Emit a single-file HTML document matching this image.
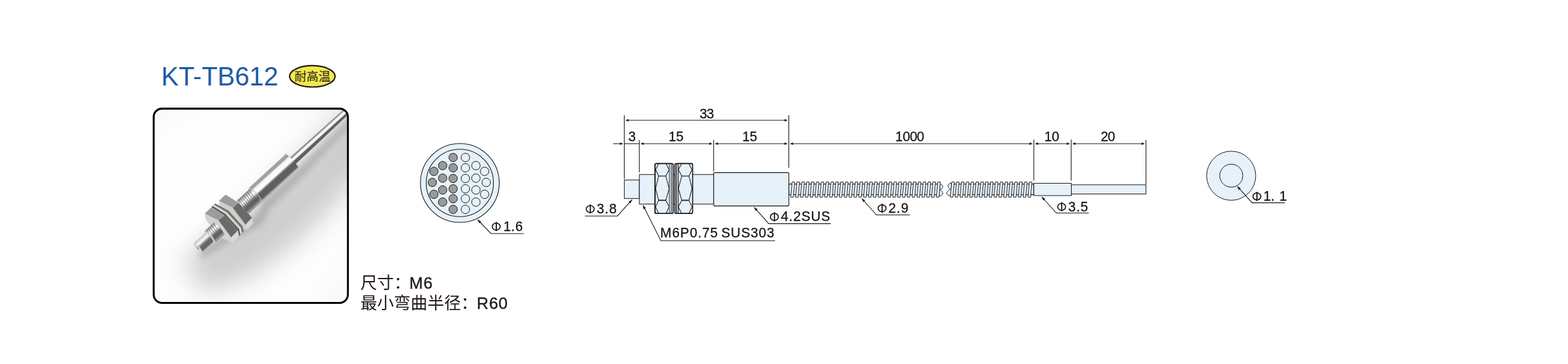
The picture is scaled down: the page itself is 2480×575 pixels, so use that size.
<!DOCTYPE html>
<html lang="zh"><head><meta charset="utf-8"><title>KT-TB612</title>
<style>
html,body{margin:0;padding:0;background:#fff}
body{width:2480px;height:575px;overflow:hidden;font-family:"Liberation Sans",sans-serif}
svg{display:block}
.t{font-family:"Liberation Sans",sans-serif;fill:#161616;stroke:#161616;stroke-width:.3px;filter:grayscale(1)}
.g{fill:#161616;stroke:none}
.cg{fill:#231815;stroke:none}
.ct{font-family:"Liberation Sans",sans-serif;fill:#231815;stroke:#231815;stroke-width:.4px;filter:grayscale(1)}
.cj{font-family:"Liberation Sans","Noto Sans CJK SC",sans-serif;fill:#231815;stroke:none}
.l{fill:none;stroke:#161616}
.f{fill:#e6f1fa;stroke:#161616}
</style></head><body>
<svg width="2480" height="575" viewBox="0 0 2480 575" role="img" aria-label="KT-TB612 耐高温 尺寸：M6 最小弯曲半径：R60">
<title>KT-TB612 耐高温</title>
<desc>KT-TB612 耐高温 光纤传感器。尺寸：M6，最小弯曲半径：R60。尺寸图：33 / 3 / 15 / 15 / 1000 / 10 / 20，Φ3.8，M6P0.75 SUS303，Φ4.2SUS，Φ2.9，Φ3.5，Φ1.6，Φ1.1</desc>
<text x="255" y="135" font-size="43" fill="#1e5aa8" textLength="185" lengthAdjust="spacingAndGlyphs" style="font-family:'Liberation Sans',sans-serif">KT-TB612</text>
<ellipse cx="494" cy="120.6" rx="36" ry="16.9" fill="#f1e84e" stroke="#231815" stroke-width="2.2"/>
<text class="cj" x="494.3" y="127.6" font-size="19" text-anchor="middle">耐高温</text>
<defs>
<clipPath id="pc"><rect x="244.4" y="172.9" width="304.5" height="304.2" rx="11.8" ry="11.8"/></clipPath>
<linearGradient id="cyl" x1="0" y1="0" x2="0" y2="1">
<stop offset="0" stop-color="#dcdcdc"/><stop offset="0.04" stop-color="#a6a6a6"/><stop offset="0.16" stop-color="#9b9b9b"/><stop offset="0.2" stop-color="#c4c4c4"/>
<stop offset="0.25" stop-color="#f6f6f6"/><stop offset="0.46" stop-color="#ffffff"/><stop offset="0.52" stop-color="#b0aeac"/><stop offset="0.57" stop-color="#6b6967"/>
<stop offset="0.64" stop-color="#5e5c5a"/><stop offset="0.86" stop-color="#62605e"/><stop offset="0.91" stop-color="#9a9997"/><stop offset="0.96" stop-color="#b4b3b2"/><stop offset="1" stop-color="#a8a8a8"/>
</linearGradient>
<linearGradient id="cyl2" x1="0" y1="0" x2="0" y2="1">
<stop offset="0" stop-color="#a2a2a2"/><stop offset="0.08" stop-color="#8e8e8e"/><stop offset="0.19" stop-color="#9c9c9c"/><stop offset="0.26" stop-color="#f2f2f2"/>
<stop offset="0.5" stop-color="#fbfbfb"/><stop offset="0.58" stop-color="#8b8987"/><stop offset="0.66" stop-color="#5e5c5a"/>
<stop offset="0.93" stop-color="#626060"/><stop offset="1" stop-color="#7c7a78"/>
</linearGradient>
<linearGradient id="cyl3" x1="0" y1="0" x2="0" y2="1">
<stop offset="0" stop-color="#c4c4c4"/><stop offset="0.12" stop-color="#d6d6d6"/><stop offset="0.28" stop-color="#f6f6f6"/>
<stop offset="0.38" stop-color="#e0e0e0"/><stop offset="0.5" stop-color="#8a8886"/><stop offset="0.62" stop-color="#6a6866"/>
<stop offset="0.85" stop-color="#62605e"/><stop offset="0.95" stop-color="#8f8d8b"/><stop offset="1" stop-color="#a9a8a7"/>
</linearGradient>
<linearGradient id="thr" x1="0" y1="0" x2="0" y2="1">
<stop offset="0" stop-color="#8f8d8b"/><stop offset="0.14" stop-color="#bdbcbb"/><stop offset="0.3" stop-color="#ffffff"/>
<stop offset="0.42" stop-color="#d9d8d7"/><stop offset="0.56" stop-color="#7a7876"/><stop offset="0.72" stop-color="#5f5d5b"/><stop offset="0.86" stop-color="#858381"/>
<stop offset="0.95" stop-color="#bab9b8"/><stop offset="1" stop-color="#908f8d"/>
</linearGradient>
<filter id="bl1" x="-10%" y="-10%" width="120%" height="120%"><feGaussianBlur stdDeviation="0.6"/></filter>
<filter id="bl2" x="-30%" y="-80%" width="160%" height="260%"><feGaussianBlur stdDeviation="20"/></filter>
<filter id="bl3" x="-20%" y="-50%" width="140%" height="200%"><feGaussianBlur stdDeviation="5.5"/></filter>
<radialGradient id="bgg" cx="0.42" cy="0.55" r="0.75"><stop offset="0" stop-color="#ffffff"/><stop offset="0.7" stop-color="#fdfdfd"/><stop offset="1" stop-color="#f8f8f8"/></radialGradient>
</defs>
<g clip-path="url(#pc)">
<rect x="242" y="170" width="310" height="310" fill="url(#bgg)"/>
<g transform="translate(312.3 391.5) rotate(-42.14)">
<g filter="url(#bl2)" opacity="0.42"><path d="M-30 0 L60 4 L130 6 L205 4 L360 0 L360 70 L205 95 L120 100 L30 90 L-40 60Z" fill="#8c8c8c" /></g>
<g filter="url(#bl3)" opacity="0.55"><path d="M-4 8 L50 12 L100 26 L125 16 L205 15 L340 8 L340 16 L205 27 L125 30 L100 40 L45 26 L-6 18Z" fill="#8a8a8a" /></g>
</g>
<g filter="url(#bl1)"><g transform="translate(312.3 391.5) rotate(-42.14)"><path d="M200 -7.7 L345 -6.7 L345 3.4 L200 6.2Z" fill="url(#cyl2)" /><path d="M124 -15.6 L203.5 -16.6 Q206.2 -1.2 203.8 13.4 L123 15.4 Q119.5 0.4 124 -15.6Z" fill="url(#cyl)"/><ellipse cx="123.4" cy="0.1" rx="4.3" ry="15.4" fill="#c9c9c8"/><path d="M96 -13.6 L124.8 -13.4 Q128.8 0.5 124.8 14.0 L96 14.6Z" fill="url(#thr)"/><path d="M99.5 -13.4 Q96.5 0.5 99.5 14.2" stroke="#4f4c4a" stroke-opacity="0.55" stroke-width="1.1" fill="none"/><path d="M103.2 -13.4 Q100.2 0.5 103.2 14.2" stroke="#4f4c4a" stroke-opacity="0.55" stroke-width="1.1" fill="none"/><path d="M106.9 -13.4 Q103.9 0.5 106.9 14.2" stroke="#4f4c4a" stroke-opacity="0.55" stroke-width="1.1" fill="none"/><path d="M110.6 -13.4 Q107.6 0.5 110.6 14.2" stroke="#4f4c4a" stroke-opacity="0.55" stroke-width="1.1" fill="none"/><path d="M114.3 -13.4 Q111.3 0.5 114.3 14.2" stroke="#4f4c4a" stroke-opacity="0.55" stroke-width="1.1" fill="none"/><path d="M118 -13.4 Q115 0.5 118 14.2" stroke="#4f4c4a" stroke-opacity="0.55" stroke-width="1.1" fill="none"/><path d="M121.7 -13.4 Q118.7 0.5 121.7 14.2" stroke="#4f4c4a" stroke-opacity="0.55" stroke-width="1.1" fill="none"/></g>
<path d="M346.3 317.2 L368.2 328.2 L388.3 355 L389.5 364.1 L367.6 353.1 L347.5 326.3Z" fill="#cfcfce" /><path d="M346.3 317.2 L356.7 307.5 L377.4 320.3 L368.2 328.2Z" fill="#9e9c9a" /><path d="M368.2 328.2 L377.4 320.3 L398.7 344 L388.3 355Z" fill="#6c6a68" /><path d="M388.3 355 L398.7 344 L400.5 353.1 L389.5 364.1Z" fill="#d6d6d5" /><path d="M334.2 327.5 L354.9 340.3 L376.2 364 L378 373.1 L385.5 366 L383.5 357 L361.5 332.5 L340 321.5Z" fill="#9a9896" /><path d="M337.5 324.5 L357.8 336.6 L379.6 360.6 L381.4 369" fill="none" stroke="#ececec" stroke-width="1.9" stroke-linejoin="round"/><path d="M335.4 326.4 L355.6 339.2 L377 363 L378.8 372" fill="none" stroke="#4c4a48" stroke-width="1.6" stroke-linejoin="round"/><path d="M340.2 322.2 L360.6 334 L382.4 358 L384.4 366.4" fill="none" stroke="#5a5856" stroke-width="1.4" stroke-linejoin="round"/><path d="M323.8 337.2 L345.7 348.2 L365.8 375 L367 384.1 L345.1 373.1 L325 346.3Z" fill="#d2d2d1" /><path d="M323.8 337.2 L334.2 327.5 L354.9 340.3 L345.7 348.2Z" fill="#9e9c9a" /><path d="M345.7 348.2 L354.9 340.3 L376.2 364 L365.8 375Z" fill="#6c6a68" /><path d="M365.8 375 L376.2 364 L378 373.1 L367 384.1Z" fill="#d9d9d8" /><g transform="translate(312.3 391.5) rotate(-42.14)"><path d="M25.5 -12.0 L46 -12.4 Q50 0.5 46 13.2 L25.5 12.6 Q21.4 0.4 25.5 -12.0Z" fill="url(#thr)"/><path d="M30 -12.0 Q27.2 0.5 30 12.9" stroke="#4f4c4a" stroke-opacity="0.55" stroke-width="1.1" fill="none"/><path d="M33.6 -12.0 Q30.8 0.5 33.6 12.9" stroke="#4f4c4a" stroke-opacity="0.55" stroke-width="1.1" fill="none"/><path d="M37.2 -12.0 Q34.4 0.5 37.2 12.9" stroke="#4f4c4a" stroke-opacity="0.55" stroke-width="1.1" fill="none"/><path d="M40.8 -12.0 Q38 0.5 40.8 12.9" stroke="#4f4c4a" stroke-opacity="0.55" stroke-width="1.1" fill="none"/><path d="M44.4 -12.0 Q41.6 0.5 44.4 12.9" stroke="#4f4c4a" stroke-opacity="0.55" stroke-width="1.1" fill="none"/><ellipse cx="25.6" cy="0.4" rx="3.8" ry="12.0" fill="#d3d3d2"/><path d="M0 -9.3 L25.4 -9.4 Q28.4 0.5 25.4 10.4 L0 10.6 Q-3.2 0.6 0 -9.3Z" fill="url(#cyl3)"/><ellipse cx="0.3" cy="0.6" rx="2.9" ry="9.6" fill="#d6d6d6"/><ellipse cx="0.2" cy="0.8" rx="1.0" ry="1.9" fill="#4a90e2"/></g></g>
</g>
<rect x="243.1" y="171.6" width="307.15" height="306.8" rx="13.1" ry="13.1" fill="none" stroke="#000" stroke-width="3.05"/>
<text class="cj" x="570" y="455.6" font-size="26.5">尺寸：</text>
<text class="ct" font-size="25.7" y="455.6" x="647.49 669.75">M6</text>
<text class="cj" x="570" y="488.4" font-size="26.5">最小弯曲半径：</text>
<text class="ct" font-size="25.7" y="488.4" x="753.99 773.4 788.54">R60</text>
<circle class="f" stroke-width="1.1" cx="727.3" cy="289.0" r="62.3"/>
<circle class="f" stroke-width="1.1" cx="727.3" cy="289.0" r="53.2"/>
<circle cx="716.7" cy="248.8" r="6.7" fill="#9a9a9a" stroke="#161616" stroke-width="1"/>
<circle cx="716.7" cy="265.1" r="6.7" fill="#9a9a9a" stroke="#161616" stroke-width="1"/>
<circle cx="716.7" cy="282" r="6.7" fill="#9a9a9a" stroke="#161616" stroke-width="1"/>
<circle cx="716.7" cy="298.3" r="6.7" fill="#9a9a9a" stroke="#161616" stroke-width="1"/>
<circle cx="716.7" cy="313.9" r="6.7" fill="#9a9a9a" stroke="#161616" stroke-width="1"/>
<circle cx="716.7" cy="330.8" r="6.7" fill="#9a9a9a" stroke="#161616" stroke-width="1"/>
<circle cx="700.1" cy="261.6" r="6.7" fill="#9a9a9a" stroke="#161616" stroke-width="1"/>
<circle cx="700.1" cy="281.4" r="6.7" fill="#9a9a9a" stroke="#161616" stroke-width="1"/>
<circle cx="700.1" cy="300.1" r="6.7" fill="#9a9a9a" stroke="#161616" stroke-width="1"/>
<circle cx="700.1" cy="319.2" r="6.7" fill="#9a9a9a" stroke="#161616" stroke-width="1"/>
<circle cx="686.3" cy="270.7" r="6.7" fill="#9a9a9a" stroke="#161616" stroke-width="1"/>
<circle cx="683.8" cy="288.2" r="6.7" fill="#9a9a9a" stroke="#161616" stroke-width="1"/>
<circle cx="686.3" cy="307" r="6.7" fill="#9a9a9a" stroke="#161616" stroke-width="1"/>
<circle cx="736.1" cy="248.8" r="6.7" fill="#e6f1fa" stroke="#161616" stroke-width="1"/>
<circle cx="736.1" cy="265.1" r="6.7" fill="#e6f1fa" stroke="#161616" stroke-width="1"/>
<circle cx="736.1" cy="282" r="6.7" fill="#e6f1fa" stroke="#161616" stroke-width="1"/>
<circle cx="736.1" cy="298.3" r="6.7" fill="#e6f1fa" stroke="#161616" stroke-width="1"/>
<circle cx="736.1" cy="313.9" r="6.7" fill="#e6f1fa" stroke="#161616" stroke-width="1"/>
<circle cx="736.1" cy="330.8" r="6.7" fill="#e6f1fa" stroke="#161616" stroke-width="1"/>
<circle cx="752.7" cy="261.6" r="6.7" fill="#e6f1fa" stroke="#161616" stroke-width="1"/>
<circle cx="752.7" cy="281.4" r="6.7" fill="#e6f1fa" stroke="#161616" stroke-width="1"/>
<circle cx="752.7" cy="300.1" r="6.7" fill="#e6f1fa" stroke="#161616" stroke-width="1"/>
<circle cx="752.7" cy="319.2" r="6.7" fill="#e6f1fa" stroke="#161616" stroke-width="1"/>
<circle cx="766.5" cy="270.7" r="6.7" fill="#e6f1fa" stroke="#161616" stroke-width="1"/>
<circle cx="769" cy="288.2" r="6.7" fill="#e6f1fa" stroke="#161616" stroke-width="1"/>
<circle cx="766.5" cy="307" r="6.7" fill="#e6f1fa" stroke="#161616" stroke-width="1"/>
<path class="l" stroke-width="1.1" d="M755.5 347 L776.5 369 L828.7 369"/>
<path class="g" d="M755.5 347 L761.09 349.82 L758.05 352.72 Z"/>
<ellipse class="l" stroke-width="1.7" cx="784.85" cy="357.95" rx="6.25" ry="5.5"/>
<path class="l" stroke-width="1.85" d="M784.95 350.6 L784.95 365.05"/>
<text class="t" font-size="21.3" y="364.7" x="796.31 808.15 815">1.6</text>
<path class="l" stroke-width="1.1" d="M987.4 182 L987.4 282.7"/>
<path class="l" stroke-width="1.1" d="M1011.2 221 L1011.2 272.3"/>
<path class="l" stroke-width="1.1" d="M1128.7 221 L1128.7 270.8"/>
<path class="l" stroke-width="1.1" d="M1247.6 182 L1247.6 265"/>
<path class="l" stroke-width="1.1" d="M1635.1 220.5 L1635.1 285.6"/>
<path class="l" stroke-width="1.1" d="M1694.2 220.5 L1694.2 285.6"/>
<path class="l" stroke-width="1.1" d="M1812.5 221 L1812.5 291"/>
<path class="l" stroke-width="1.1" d="M991.2 190 L1243.8 190"/>
<path class="g" d="M989.2 190 L994.2 188.05 L994.2 191.95 Z"/>
<path class="g" d="M1245.8 190 L1240.8 191.95 L1240.8 188.05 Z"/>
<path class="l" stroke-width="1.1" d="M969.7 227 L983.6 227"/>
<path class="g" d="M985.6 227 L980.6 228.95 L980.6 225.05 Z"/>
<path class="l" stroke-width="1.1" d="M987.4 227 L1011.2 227"/>
<path class="l" stroke-width="1.1" d="M1015 227 L1124.9 227"/>
<path class="g" d="M1013 227 L1018 225.05 L1018 228.95 Z"/>
<path class="g" d="M1126.9 227 L1121.9 228.95 L1121.9 225.05 Z"/>
<path class="l" stroke-width="1.1" d="M1132.5 227 L1243.8 227"/>
<path class="g" d="M1130.5 227 L1135.5 225.05 L1135.5 228.95 Z"/>
<path class="g" d="M1245.8 227 L1240.8 228.95 L1240.8 225.05 Z"/>
<path class="l" stroke-width="1.1" d="M1251.4 227 L1631.3 227"/>
<path class="g" d="M1249.4 227 L1254.4 225.05 L1254.4 228.95 Z"/>
<path class="g" d="M1633.3 227 L1628.3 228.95 L1628.3 225.05 Z"/>
<path class="l" stroke-width="1.1" d="M1638.9 227 L1690.4 227"/>
<path class="g" d="M1636.9 227 L1641.9 225.05 L1641.9 228.95 Z"/>
<path class="g" d="M1692.4 227 L1687.4 228.95 L1687.4 225.05 Z"/>
<path class="l" stroke-width="1.1" d="M1698 227 L1808.7 227"/>
<path class="g" d="M1696 227 L1701 225.05 L1701 228.95 Z"/>
<path class="g" d="M1810.7 227 L1805.7 228.95 L1805.7 225.05 Z"/>
<text class="t" font-size="21.3" y="187" x="1106.39 1117.46">33</text>
<text class="t" font-size="21.3" y="223.3" x="993.79">3</text>
<text class="t" font-size="21.3" y="223.3" x="1057.5 1069.35">15</text>
<text class="t" font-size="21.3" y="223.3" x="1174 1185.85">15</text>
<text class="t" font-size="21.3" y="223.3" x="1416 1427.85 1438.93 1450.01">1000</text>
<text class="t" font-size="21.3" y="223.3" x="1651.7 1663.55">10</text>
<text class="t" font-size="21.3" y="223.3" x="1741.03 1752.1">20</text>
<rect class="f" stroke-width="1" x="987.4" y="284.3" width="23.8" height="29.3"/>
<rect class="f" stroke-width="1" x="1011.2" y="275.7" width="117.6" height="46.6"/>
<rect class="f" stroke-width="1.1" x="1128.8" y="272.6" width="118.9" height="52.8" rx="2" ry="2"/>
<g transform="translate(1035.9 0)"><rect x="0" y="258.4" width="28.8" height="78.90000000000003" rx="2.4" ry="2.4" fill="#e6f1fa"/><rect x="26.2" y="259.2" width="2.1000000000000014" height="77.30000000000004" rx="1" fill="#cbd3db"/><rect class="l" stroke-width="0.95" x="0" y="258.4" width="22.8" height="78.90000000000003" rx="1.2" ry="1.6"/><rect class="l" stroke-width="0.95" x="0" y="258.4" width="25.7" height="78.90000000000003" rx="1.9" ry="2.4"/><rect class="l" stroke-width="1.6" x="0" y="258.4" width="28.8" height="78.90000000000003" rx="2.4" ry="2.4"/><path class="l" stroke-width="1.05" stroke-linejoin="round" d="M5.8 258.4 L1 268.1 L5.8 278.1 L1 297.85 L5.8 316.4 L1 326.6 L5.8 337.3"/><path class="l" stroke-width="1.05" stroke-linejoin="round" d="M17.5 258.4 L22.5 268.1 L17.2 278.1 L22.5 297.85 L17.2 316.4 L22.5 326.6 L17.5 337.3"/><path class="l" stroke-width="1.2" d="M5.8 278.1 L17.2 278.1"/><path class="l" stroke-width="1.7" d="M5.8 316.4 L17.2 316.4"/></g>
<g transform="translate(1095.5 0) scale(-1 1)"><rect x="0" y="258.4" width="28.1" height="78.90000000000003" rx="2.4" ry="2.4" fill="#e6f1fa"/><rect x="24.5" y="259.2" width="1.6999999999999993" height="77.30000000000004" rx="1" fill="#8f959c"/><rect x="21.9" y="259.2" width="1.6000000000000014" height="77.30000000000004" rx="1" fill="#a3a9b0"/><rect class="l" stroke-width="0.95" x="0" y="258.4" width="22.8" height="78.90000000000003" rx="1.2" ry="1.6"/><rect class="l" stroke-width="0.95" x="0" y="258.4" width="25.7" height="78.90000000000003" rx="1.9" ry="2.4"/><rect class="l" stroke-width="1.6" x="0" y="258.4" width="28.1" height="78.90000000000003" rx="2.4" ry="2.4"/><path class="l" stroke-width="1.05" stroke-linejoin="round" d="M5.8 258.4 L1 268.1 L5.8 278.1 L1 297.85 L5.8 316.4 L1 326.6 L5.8 337.3"/><path class="l" stroke-width="1.05" stroke-linejoin="round" d="M17.5 258.4 L22.5 268.1 L17.2 278.1 L22.5 297.85 L17.2 316.4 L22.5 326.6 L17.5 337.3"/><path class="l" stroke-width="1.2" d="M5.8 278.1 L17.2 278.1"/><path class="l" stroke-width="1.7" d="M5.8 316.4 L17.2 316.4"/></g>
<path class="f" stroke-width="0.95" stroke-linejoin="round" d="M1486.6 290.4 C1489.5 291 1491.3 293.2 1491.1 295.4 C1490.9 297.4 1488.8 298.8 1486.4 299.5 C1489 300.4 1491.3 303.2 1491.1 305.8 C1490.9 308 1488.5 309.2 1485 309.5 Z"/>
<path class="f" stroke-width="0.95" stroke-linejoin="round" d="M1505.2 289.3 C1502 289.6 1499.4 291 1499.4 293.2 C1499.4 295.6 1501.2 297.6 1503.4 299 C1500.6 300 1497.4 302.4 1497.4 305 C1497.4 307.6 1500 309.2 1504 309.6 Z"/>
<rect x="1247.7" y="290.7" width="236.8" height="16.900000000000034" fill="#e9f2fa" stroke="#161616" stroke-width="1.2"/><path d="M1250.6 311.4 L1252.8 287.5 L1256.9 287.5 L1254.8 311.4ZM1258.28 311.4 L1260.48 287.5 L1264.58 287.5 L1262.48 311.4ZM1265.96 311.4 L1268.16 287.5 L1272.26 287.5 L1270.16 311.4ZM1273.64 311.4 L1275.84 287.5 L1279.94 287.5 L1277.84 311.4ZM1281.32 311.4 L1283.52 287.5 L1287.62 287.5 L1285.52 311.4ZM1289 311.4 L1291.2 287.5 L1295.3 287.5 L1293.2 311.4ZM1296.68 311.4 L1298.88 287.5 L1302.98 287.5 L1300.88 311.4ZM1304.36 311.4 L1306.56 287.5 L1310.66 287.5 L1308.56 311.4ZM1312.04 311.4 L1314.24 287.5 L1318.34 287.5 L1316.24 311.4ZM1319.72 311.4 L1321.92 287.5 L1326.02 287.5 L1323.92 311.4ZM1327.4 311.4 L1329.6 287.5 L1333.7 287.5 L1331.6 311.4ZM1335.08 311.4 L1337.28 287.5 L1341.38 287.5 L1339.28 311.4ZM1342.76 311.4 L1344.96 287.5 L1349.06 287.5 L1346.96 311.4ZM1350.44 311.4 L1352.64 287.5 L1356.74 287.5 L1354.64 311.4ZM1358.12 311.4 L1360.32 287.5 L1364.42 287.5 L1362.32 311.4ZM1365.8 311.4 L1368 287.5 L1372.1 287.5 L1370 311.4ZM1373.48 311.4 L1375.68 287.5 L1379.78 287.5 L1377.68 311.4ZM1381.16 311.4 L1383.36 287.5 L1387.46 287.5 L1385.36 311.4ZM1388.84 311.4 L1391.04 287.5 L1395.14 287.5 L1393.04 311.4ZM1396.52 311.4 L1398.72 287.5 L1402.82 287.5 L1400.72 311.4ZM1404.2 311.4 L1406.4 287.5 L1410.5 287.5 L1408.4 311.4ZM1411.88 311.4 L1414.08 287.5 L1418.18 287.5 L1416.08 311.4ZM1419.56 311.4 L1421.76 287.5 L1425.86 287.5 L1423.76 311.4ZM1427.24 311.4 L1429.44 287.5 L1433.54 287.5 L1431.44 311.4ZM1434.92 311.4 L1437.12 287.5 L1441.22 287.5 L1439.12 311.4ZM1442.6 311.4 L1444.8 287.5 L1448.9 287.5 L1446.8 311.4ZM1450.28 311.4 L1452.48 287.5 L1456.58 287.5 L1454.48 311.4ZM1457.96 311.4 L1460.16 287.5 L1464.26 287.5 L1462.16 311.4ZM1465.64 311.4 L1467.84 287.5 L1471.94 287.5 L1469.84 311.4ZM1473.32 311.4 L1475.52 287.5 L1479.62 287.5 L1477.52 311.4ZM1481 311.4 L1483.2 287.5 L1487.3 287.5 L1485.2 311.4Z" fill="#e6f1fa" stroke="#161616" stroke-width="0.95" stroke-linejoin="round"/>
<rect x="1505" y="290.7" width="130.1" height="16.900000000000034" fill="#e9f2fa" stroke="#161616" stroke-width="1.2"/><path d="M1503 311.4 L1505.2 287.5 L1509.3 287.5 L1507.2 311.4ZM1510.68 311.4 L1512.88 287.5 L1516.98 287.5 L1514.88 311.4ZM1518.36 311.4 L1520.56 287.5 L1524.66 287.5 L1522.56 311.4ZM1526.04 311.4 L1528.24 287.5 L1532.34 287.5 L1530.24 311.4ZM1533.72 311.4 L1535.92 287.5 L1540.02 287.5 L1537.92 311.4ZM1541.4 311.4 L1543.6 287.5 L1547.7 287.5 L1545.6 311.4ZM1549.08 311.4 L1551.28 287.5 L1555.38 287.5 L1553.28 311.4ZM1556.76 311.4 L1558.96 287.5 L1563.06 287.5 L1560.96 311.4ZM1564.44 311.4 L1566.64 287.5 L1570.74 287.5 L1568.64 311.4ZM1572.12 311.4 L1574.32 287.5 L1578.42 287.5 L1576.32 311.4ZM1579.8 311.4 L1582 287.5 L1586.1 287.5 L1584 311.4ZM1587.48 311.4 L1589.68 287.5 L1593.78 287.5 L1591.68 311.4ZM1595.16 311.4 L1597.36 287.5 L1601.46 287.5 L1599.36 311.4ZM1602.84 311.4 L1605.04 287.5 L1609.14 287.5 L1607.04 311.4ZM1610.52 311.4 L1612.72 287.5 L1616.82 287.5 L1614.72 311.4ZM1618.2 311.4 L1620.4 287.5 L1624.5 287.5 L1622.4 311.4ZM1625.88 311.4 L1628.08 287.5 L1632.18 287.5 L1630.08 311.4Z" fill="#e6f1fa" stroke="#161616" stroke-width="0.95" stroke-linejoin="round"/>
<rect class="f" stroke-width="1" x="1694.4" y="291.9" width="118.1" height="14.5"/>
<rect class="f" stroke-width="1" x="1635.1" y="289.5" width="59.3" height="19.5"/>
<path class="l" stroke-width="1.1" d="M999.7 315.4 L976.6 341.2 L925.2 341.2"/>
<path class="g" d="M999.7 315.4 L997.33 321.2 L994.2 318.39 Z"/>
<ellipse class="l" stroke-width="1.7" cx="933.55" cy="330.25" rx="6.25" ry="5.5"/>
<path class="l" stroke-width="1.85" d="M933.65 322.9 L933.65 337.35"/>
<text class="t" font-size="21.3" y="337" x="943.79 956.56 963.41">3.8</text>
<path class="l" stroke-width="1.1" d="M1017 324.3 L1045.3 380.3 L1226 380.3"/>
<path class="g" d="M1017 324.3 L1021.54 328.62 L1017.79 330.51 Z"/>
<text class="t" font-size="21.3" y="374.8" x="1044.35 1063.03 1075.8 1090.94 1103.71 1110.56 1123.34">M6P0.75</text>
<text class="t" font-size="21.3" y="374.8" x="1140.73 1155.87 1172.18 1187.32 1200.09 1212.87">SUS303</text>
<path class="l" stroke-width="1.1" d="M1192.8 327.4 L1215.9 353.4 L1314 353.4"/>
<path class="g" d="M1192.8 327.4 L1198.29 330.42 L1195.15 333.21 Z"/>
<ellipse class="l" stroke-width="1.7" cx="1224.75" cy="342.65" rx="6.25" ry="5.5"/>
<path class="l" stroke-width="1.85" d="M1224.85 335.3 L1224.85 349.75"/>
<text class="t" font-size="21.3" y="349.4" x="1235.01 1247.79 1254.64 1267.41 1282.55 1298.86">4.2SUS</text>
<path class="l" stroke-width="1.1" d="M1363 313.5 L1386.3 339.5 L1438.9 339.5"/>
<path class="g" d="M1363 313.5 L1368.5 316.49 L1365.37 319.3 Z"/>
<ellipse class="l" stroke-width="1.7" cx="1395.15" cy="329.05" rx="6.25" ry="5.5"/>
<path class="l" stroke-width="1.85" d="M1395.25 321.7 L1395.25 336.15"/>
<text class="t" font-size="21.3" y="335.8" x="1405.33 1418.1 1424.95">2.9</text>
<path class="l" stroke-width="1.1" d="M1647.6 311 L1670.9 336.5 L1722 336.5"/>
<path class="g" d="M1647.6 311 L1653.13 313.94 L1650.03 316.77 Z"/>
<ellipse class="l" stroke-width="1.7" cx="1679.15" cy="326.75" rx="6.25" ry="5.5"/>
<path class="l" stroke-width="1.85" d="M1679.25 319.4 L1679.25 333.85"/>
<text class="t" font-size="21.3" y="333.5" x="1689.39 1702.16 1709.01">3.5</text>
<circle class="f" stroke-width="1" cx="1947.3" cy="277.6" r="38.8"/>
<circle class="f" stroke-width="1" cx="1947.4" cy="277.5" r="18.2"/>
<path class="l" stroke-width="1.1" d="M1957 294.4 L1980.5 320.4 L2032 320.4"/>
<path class="g" d="M1957 294.4 L1962.51 297.37 L1959.4 300.19 Z"/>
<ellipse class="l" stroke-width="1.7" cx="1987.95" cy="310.35" rx="6.25" ry="5.5"/>
<path class="l" stroke-width="1.85" d="M1988.05 303 L1988.05 317.45"/>
<text class="t" font-size="21.3" y="317.1" x="1998.21 2009.96 2023.41">1.1</text>
</svg>
</body></html>
